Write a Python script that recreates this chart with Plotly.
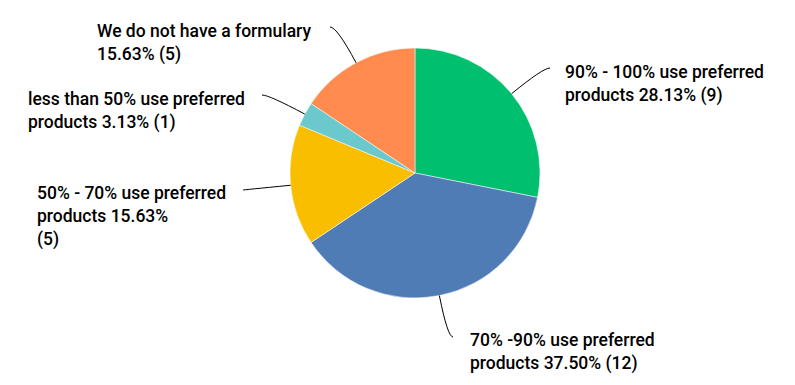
import math
import plotly.graph_objects as go

# ---- data ----
labels = [
    "90% - 100% use preferred<br>products 28.13% (9)",
    "70% -90% use preferred<br>products 37.50% (12)",
    "50% - 70% use preferred<br>products 15.63%<br>(5)",
    "less than 50% use preferred<br>products 3.13% (1)",
    "We do not have a formulary<br>15.63% (5)",
]
counts = [9, 12, 5, 1, 5]
colors = ["#00BF6F", "#507CB6", "#F9BE00", "#6BC8CD", "#FF8B4F"]

# ---- layout (pixels) ----
W, H = 795, 385
cx, cy, R = 415, 173, 125
# where each leader line ends (pixels), and label side
line_end = [(550, 68), (453, 337), (243, 190), (262, 95), (330, 27)]
side = ["right", "right", "left", "left", "left"]
label_mid_y = [84, 352, 216, 111, 43]
gap = [13, 15, 15, 15, 17]

def px(x):
    return x / W

def py(y):
    return 1 - y / H

fig = go.Figure(go.Pie(
    values=counts,
    labels=[l.replace("<br>", " ") for l in labels],
    marker=dict(colors=colors, line=dict(color="white", width=0.5)),
    sort=False, direction="clockwise", rotation=0,
    textinfo="none", hoverinfo="label",
    domain=dict(x=[px(cx - R), px(cx + R)], y=[py(cy + R), py(cy - R)]),
    showlegend=False,
))

total = sum(counts)
cum = 0
shapes, annotations = [], []
for i, v in enumerate(counts):
    mid = (cum + v / 2) / total * 2 * math.pi
    cum += v
    dx, dy = math.sin(mid), -math.cos(mid)
    sx, sy = cx + R * dx, cy + R * dy
    ex, ey = line_end[i]
    # control point: radial ray meets horizontal at end y
    if abs(dy) > 1e-3:
        t = (ey - sy) / dy
        if t < 0:
            t = 0
        qx, qy = sx + dx * t, ey
    else:
        qx, qy = (sx + ex) / 2, (sy + ey) / 2
    path = f"M {px(sx)},{py(sy)} Q {px(qx)},{py(qy)} {px(ex)},{py(ey)}"
    shapes.append(dict(type="path", path=path, xref="paper", yref="paper",
                       line=dict(color="#000000", width=1)))
    if side[i] == "right":
        ax, xa = ex + gap[i], "left"
    else:
        ax, xa = ex - gap[i], "right"
    annotations.append(dict(
        text=labels[i], x=px(ax), y=py(label_mid_y[i]), xref="paper", yref="paper",
        xanchor=xa, yanchor="middle", align="left", showarrow=False,
        font=dict(family="Roboto", size=17.5, color="#000000", weight=500),
    ))

fig.update_layout(
    width=W, height=H, margin=dict(l=0, r=0, t=0, b=0),
    paper_bgcolor="white", plot_bgcolor="white",
    shapes=shapes, annotations=annotations,
)
fig.write_html("out.html")
